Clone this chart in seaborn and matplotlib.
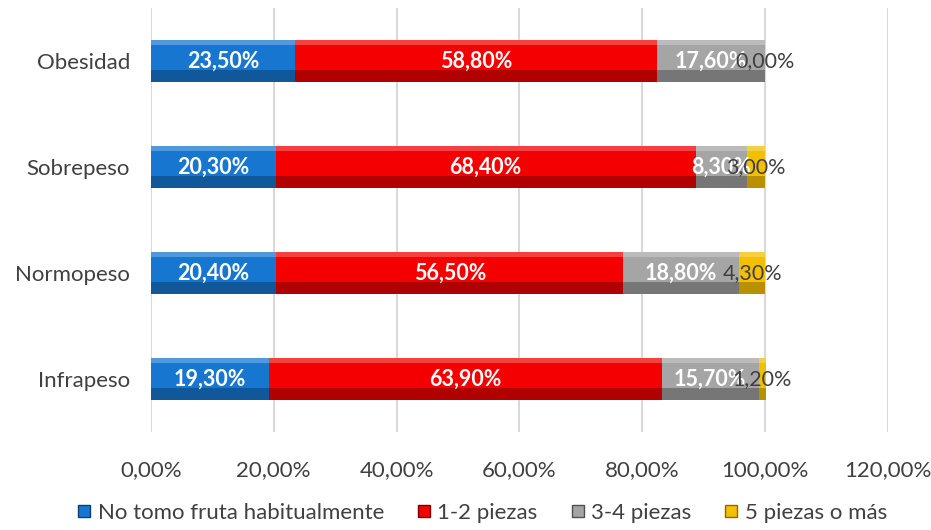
import numpy as np
import pandas as pd
import matplotlib
matplotlib.use("Agg")
import matplotlib.pyplot as plt
import seaborn as sns
from matplotlib.patches import Rectangle
from matplotlib.lines import Line2D

categorias = ["Obesidad", "Sobrepeso", "Normopeso", "Infrapeso"]
series = ["No tomo fruta habitualmente", "1-2 piezas", "3-4 piezas", "5 piezas o más"]
no_fruta = [23.5, 20.3, 20.4, 19.3]
piezas_1_2 = [58.8, 68.4, 56.5, 63.9]
piezas_3_4 = [17.6, 8.3, 18.8, 15.7]
piezas_5 = [0.0, 3.0, 4.3, 1.2]
xticks = [0, 20, 40, 60, 80, 100, 120]

colores = ["#1777D0", "#F50000", "#A5A5A5", "#F2C000"]
oscuros = ["#0C3F6E", "#7A0000", "#505050", "#8A6A00"]
color_texto = ["white", "white", "white", "#404040"]

sns.set_style("white")
plt.rcParams["font.family"] = ["Lato", "DejaVu Sans"]

valores = [no_fruta, piezas_1_2, piezas_3_4, piezas_5]
df = pd.DataFrame({"cat": categorias})
for s, v in zip(series, valores):
    df[s] = v

fig = plt.figure(figsize=(9.31, 5.30), dpi=100)
ax = fig.add_axes([0.162, 0.185, 0.792, 0.800])

# apilado: totales acumulados, del más largo al más corto
acum = np.cumsum(np.array(valores), axis=0)
for i in range(len(series) - 1, -1, -1):
    sns.barplot(x=acum[i], y=categorias, color=colores[i], width=0.4,
                orient="h", ax=ax, linewidth=0, saturation=1)

# efecto biselado
bars = ax.patches
n = len(categorias)
for k, i in enumerate(range(len(series) - 1, -1, -1)):
    for j in range(n):
        p = bars[k * n + j]
        y0, h = p.get_y(), p.get_height()
        left = acum[i][j] - valores[i][j]
        w = valores[i][j]
        if w <= 0:
            continue
        ax.add_patch(Rectangle((left, y0 + h * 0.72), w, h * 0.28,
                               color=oscuros[i], alpha=0.55, lw=0, zorder=3))
        ax.add_patch(Rectangle((left, y0), w, h * 0.12,
                               color="white", alpha=0.25, lw=0, zorder=3))

for i in range(len(series)):
    for j in range(n):
        centro = acum[i][j] - valores[i][j] / 2
        txt = f"{valores[i][j]:.2f}%".replace(".", ",")
        ax.text(centro, j, txt, ha="center", va="center", fontsize=15.5,
                color=color_texto[i], fontweight="bold" if i < 3 else "normal",
                zorder=5)

ax.set_xlim(0, 120)
ax.set_ylim(3.5, -0.5)
ax.set_xticks(xticks)
ax.set_xticklabels([f"{t:.2f}%".replace(".", ",") for t in xticks])
ax.xaxis.grid(True, color="#D9D9D9", linewidth=1.5)
ax.set_axisbelow(True)
for sp in ax.spines.values():
    sp.set_visible(False)
ax.tick_params(axis="both", labelsize=16, colors="#404040", length=0)
ax.tick_params(axis="y", pad=15)
ax.tick_params(axis="x", pad=20)
ax.set_xlabel("")
ax.set_ylabel("")

handles = [Line2D([0], [0], marker="s", linestyle="", markersize=9,
                  markerfacecolor=colores[i], markeredgecolor=oscuros[i])
           for i in range(len(series))]
fig.legend(handles, series, loc="lower center", ncol=4, frameon=False,
           fontsize=16, bbox_to_anchor=(0.518, -0.025), handlelength=0.6,
           handletextpad=0.3, columnspacing=1.5, labelcolor="#404040")

fig.savefig("out.png", dpi=100)
